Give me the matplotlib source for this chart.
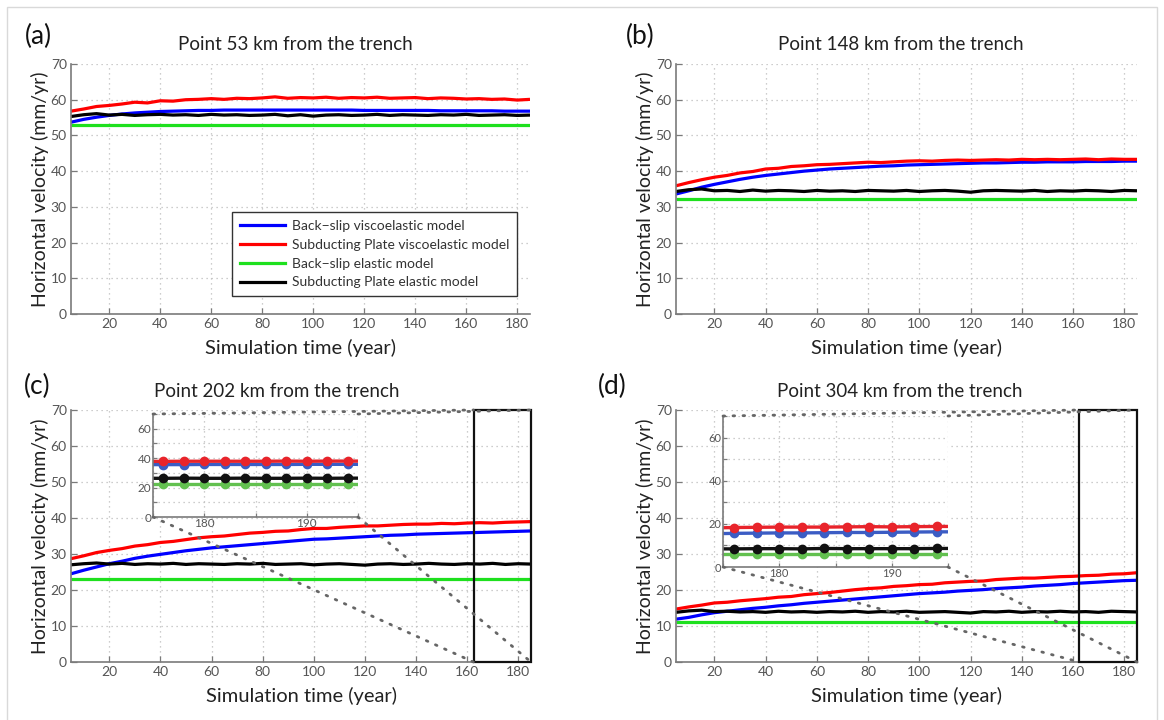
import matplotlib.pyplot as plt
from matplotlib.patches import Rectangle, ConnectionPatch
from matplotlib.lines import Line2D

plt.rcParams['font.family'] = ['Lato', 'DejaVu Sans']

# simulation time (years)
years = list(range(5, 190, 5))

labels = ['Back\u2212slip viscoelastic model', 'Subducting Plate viscoelastic model',
          'Back\u2212slip elastic model', 'Subducting Plate elastic model']
titles = ['Point 53 km from the trench', 'Point 148 km from the trench',
          'Point 202 km from the trench', 'Point 304 km from the trench']
panel_tags = ['(a)', '(b)', '(c)', '(d)']

# (a) 53 km
a_blue = [53.7, 54.5, 55.1, 55.6, 56.0, 56.3, 56.5, 56.7, 56.8, 56.9,
          57.0, 57.0, 57.1, 57.1, 57.1, 57.1, 57.1, 57.1, 57.1, 57.1,
          57.1, 57.1, 57.1, 57.0, 57.0, 57.0, 57.0, 57.0, 57.0, 56.9,
          56.9, 56.9, 56.9, 56.9, 56.8, 56.8, 56.8]
a_red = [56.8, 57.4, 58.1, 58.4, 58.8, 59.3, 59.1, 59.7, 59.6, 60.0,
         60.1, 60.3, 60.1, 60.4, 60.3, 60.5, 60.8, 60.4, 60.6, 60.5,
         60.7, 60.4, 60.6, 60.5, 60.7, 60.4, 60.5, 60.6, 60.3, 60.5,
         60.4, 60.2, 60.3, 60.1, 60.2, 59.9, 60.1]
a_green = [53.0, 53.0, 53.0, 53.0, 53.0, 53.0, 53.0, 53.0, 53.0, 53.0,
           53.0, 53.0, 53.0, 53.0, 53.0, 53.0, 53.0, 53.0, 53.0, 53.0,
           53.0, 53.0, 53.0, 53.0, 53.0, 53.0, 53.0, 53.0, 53.0, 53.0,
           53.0, 53.0, 53.0, 53.0, 53.0, 53.0, 53.0]
a_black = [55.3, 55.8, 56.1, 55.7, 55.9, 55.6, 55.8, 55.9, 55.7, 55.8,
           55.6, 55.9, 55.7, 55.8, 55.6, 55.7, 55.9, 55.5, 55.8, 55.4,
           55.7, 55.8, 55.6, 55.7, 55.9, 55.6, 55.8, 55.7, 55.6, 55.8,
           55.7, 55.9, 55.6, 55.7, 55.8, 55.6, 55.7]

# (b) 148 km
b_blue = [33.6, 34.5, 35.5, 36.3, 37.0, 37.7, 38.3, 38.8, 39.2, 39.6,
          40.0, 40.3, 40.6, 40.8, 41.0, 41.2, 41.4, 41.5, 41.7, 41.8,
          41.9, 42.0, 42.1, 42.2, 42.3, 42.3, 42.4, 42.5, 42.5, 42.6,
          42.6, 42.6, 42.7, 42.7, 42.7, 42.8, 42.8]
b_red = [35.9, 36.8, 37.6, 38.3, 38.8, 39.5, 39.9, 40.6, 40.8, 41.3,
         41.5, 41.8, 41.9, 42.1, 42.3, 42.5, 42.4, 42.6, 42.8, 42.9,
         42.8, 43.0, 43.1, 43.0, 43.1, 43.2, 43.1, 43.3, 43.2, 43.3,
         43.2, 43.3, 43.4, 43.2, 43.4, 43.3, 43.3]
b_green = [32.1, 32.1, 32.1, 32.1, 32.1, 32.1, 32.1, 32.1, 32.1, 32.1,
           32.1, 32.1, 32.1, 32.1, 32.1, 32.1, 32.1, 32.1, 32.1, 32.1,
           32.1, 32.1, 32.1, 32.1, 32.1, 32.1, 32.1, 32.1, 32.1, 32.1,
           32.1, 32.1, 32.1, 32.1, 32.1, 32.1, 32.1]
b_black = [34.3, 34.8, 35.0, 34.5, 34.6, 34.3, 34.7, 34.4, 34.6, 34.5,
           34.3, 34.6, 34.4, 34.5, 34.3, 34.6, 34.5, 34.4, 34.6, 34.3,
           34.5, 34.6, 34.4, 34.1, 34.5, 34.6, 34.5, 34.4, 34.6, 34.3,
           34.5, 34.4, 34.6, 34.5, 34.3, 34.6, 34.5]

# (c) 202 km
c_blue = [24.5, 25.5, 26.4, 27.3, 28.0, 28.8, 29.4, 29.9, 30.4, 30.9,
          31.3, 31.7, 32.0, 32.3, 32.6, 32.9, 33.2, 33.5, 33.8, 34.1,
          34.2, 34.4, 34.6, 34.8, 35.0, 35.2, 35.3, 35.5, 35.6, 35.7,
          35.8, 35.9, 36.0, 36.1, 36.2, 36.3, 36.4]
c_red = [28.7, 29.5, 30.4, 31.0, 31.5, 32.2, 32.6, 33.2, 33.5, 34.0,
         34.5, 34.8, 35.0, 35.4, 35.8, 36.0, 36.3, 36.4, 36.8, 37.1,
         37.1, 37.4, 37.6, 37.8, 37.8, 38.0, 38.2, 38.3, 38.3, 38.5,
         38.4, 38.6, 38.7, 38.6, 38.8, 38.9, 39.0]
c_green = [23.0, 23.0, 23.0, 23.0, 23.0, 23.0, 23.0, 23.0, 23.0, 23.0,
           23.0, 23.0, 23.0, 23.0, 23.0, 23.0, 23.0, 23.0, 23.0, 23.0,
           23.0, 23.0, 23.0, 23.0, 23.0, 23.0, 23.0, 23.0, 23.0, 23.0,
           23.0, 23.0, 23.0, 23.0, 23.0, 23.0, 23.0]
c_black = [27.0, 27.3, 27.5, 27.2, 27.4, 27.1, 27.3, 27.2, 27.4, 27.1,
           27.3, 27.2, 27.1, 27.3, 27.2, 27.4, 27.1, 27.2, 27.3, 27.0,
           27.2, 27.3, 27.1, 26.9, 27.2, 27.3, 27.1, 27.2, 27.4, 27.2,
           27.1, 27.3, 27.2, 27.4, 27.1, 27.3, 27.2]

# (d) 304 km
d_blue = [11.9, 12.4, 13.1, 13.7, 14.1, 14.5, 14.9, 15.2, 15.6, 15.9,
          16.3, 16.6, 16.9, 17.2, 17.5, 17.8, 18.1, 18.4, 18.7, 19.0,
          19.2, 19.4, 19.7, 19.9, 20.1, 20.4, 20.6, 20.8, 21.1, 21.3,
          21.5, 21.8, 22.0, 22.2, 22.4, 22.6, 22.7]
d_red = [14.7, 15.3, 15.8, 16.4, 16.6, 17.0, 17.3, 17.6, 18.0, 18.2,
         18.7, 19.0, 19.3, 19.7, 20.1, 20.4, 20.6, 21.0, 21.2, 21.5,
         21.6, 22.0, 22.2, 22.4, 22.5, 22.9, 23.1, 23.3, 23.3, 23.5,
         23.7, 23.8, 24.0, 24.1, 24.4, 24.5, 24.8]
d_green = [11.2, 11.2, 11.2, 11.2, 11.2, 11.2, 11.2, 11.2, 11.2, 11.2,
           11.2, 11.2, 11.2, 11.2, 11.2, 11.2, 11.2, 11.2, 11.2, 11.2,
           11.2, 11.2, 11.2, 11.2, 11.2, 11.2, 11.2, 11.2, 11.2, 11.2,
           11.2, 11.2, 11.2, 11.2, 11.2, 11.2, 11.2]
d_black = [13.8, 14.2, 14.4, 14.0, 14.1, 13.9, 14.0, 13.8, 14.1, 13.9,
           14.0, 13.8, 14.0, 13.9, 14.1, 13.8, 14.0, 13.9, 14.1, 13.8,
           13.9, 14.0, 13.8, 13.6, 14.0, 13.9, 14.1, 13.8, 14.0, 13.9,
           14.1, 13.9, 14.0, 13.8, 14.1, 14.0, 13.9]

# zoomed insets (c) and (d)
inset_years = [175, 176, 178, 180, 182, 184, 186, 188, 190, 192, 194, 195]
c_in_blue = [35.6, 35.6, 35.6, 35.7, 35.7, 35.7, 35.7, 35.7, 35.8, 35.8, 35.8, 35.8]
c_in_red = [37.8, 37.8, 37.9, 37.9, 37.9, 37.9, 37.9, 38.0, 37.9, 38.0, 38.0, 38.0]
c_in_green = [22.5, 22.5, 22.5, 22.5, 22.5, 22.5, 22.5, 22.5, 22.5, 22.5, 22.5, 22.5]
c_in_black = [26.3, 26.3, 26.4, 26.3, 26.3, 26.4, 26.3, 26.3, 26.4, 26.3, 26.4, 26.4]
d_in_blue = [15.5, 15.6, 15.7, 15.8, 15.8, 15.9, 16.0, 16.0, 16.1, 16.2, 16.3, 16.3]
d_in_red = [18.2, 18.3, 18.4, 18.5, 18.5, 18.5, 18.6, 18.7, 18.6, 18.7, 18.8, 18.8]
d_in_green = [6.0, 6.0, 6.0, 6.0, 6.0, 6.0, 6.0, 6.0, 6.0, 6.0, 6.0, 6.0]
d_in_black = [8.4, 8.4, 8.5, 8.5, 8.4, 8.6, 8.5, 8.5, 8.5, 8.5, 8.6, 8.6]

zoom_window = (162.5, 185)

main_colors = ['#0000ff', '#ff0000', '#1ee01e', '#000000']
inset_colors = ['#3b5cc4', '#e8242b', '#62c04f', '#111111']

W, H = 1164, 720
fig = plt.figure(figsize=(W / 100, H / 100), dpi=100)

# light frame around the picture
fig.add_artist(Rectangle((7 / W, -0.05), 1150 / W, 1.05 - 7 / H, transform=fig.transFigure,
                         fill=False, edgecolor='#d9d9d9', linewidth=1.0))


def px_axes(l, t, r, b):
    return fig.add_axes([l / W, 1 - b / H, (r - l) / W, (b - t) / H])


def style(ax, fs):
    for s in ['top', 'right']:
        ax.spines[s].set_visible(False)
    for s in ['left', 'bottom']:
        ax.spines[s].set_color('#7a7a7a')
        ax.spines[s].set_linewidth(1.2)
    ax.tick_params(direction='in', length=4, width=0.9, color='#7a7a7a',
                   labelcolor='#555555', labelsize=fs, pad=3)
    ax.grid(True, linestyle=(0, (1, 3)), color='#bdbdbd', linewidth=0.9)
    ax.set_axisbelow(True)


boxes = [(71, 64, 530, 314), (676, 64, 1137, 314), (71, 410, 531, 662), (676, 410, 1137, 662)]
series = [(a_blue, a_red, a_green, a_black), (b_blue, b_red, b_green, b_black),
          (c_blue, c_red, c_green, c_black), (d_blue, d_red, d_green, d_black)]
title_x = [295, 901, 277, 900]
title_y = [44, 44, 392, 392]
tag_xy = [(25, 36), (626, 36), (24, 386), (598, 386)]
ylab_x = [40, 645, 40, 645]

axes = []
for i, (box, data) in enumerate(zip(boxes, series)):
    ax = px_axes(*box)
    for y, c, lab in zip(data, main_colors, labels):
        ax.plot(years, y, color=c, linewidth=2.3, label=lab, solid_capstyle='butt')
    ax.set_xlim(5, 185)
    ax.set_ylim(0, 70)
    ax.set_xticks(range(20, 181, 20))
    ax.set_yticks(range(0, 71, 10))
    style(ax, 10)
    fig.text(title_x[i] / W, 1 - title_y[i] / H, titles[i], ha='center', va='center',
             fontsize=13.5, color='#222222')
    fig.text(tag_xy[i][0] / W, 1 - tag_xy[i][1] / H, panel_tags[i], ha='left', va='center',
             fontsize=19, color='#111111')
    cy = (box[1] + box[3]) / 2
    fig.text(ylab_x[i] / W, 1 - cy / H, 'Horizontal velocity (mm/yr)', rotation=90,
             ha='center', va='center', fontsize=14, color='#222222')
    fig.text((box[0] + box[2]) / 2 / W, 1 - (box[3] + 34) / H, 'Simulation time (year)',
             ha='center', va='center', fontsize=14.5, color='#222222')
    axes.append(ax)

# legend in panel (a)
handles = [Line2D([], [], color=c, linewidth=2.3) for c in main_colors]
leg = fig.legend(handles, labels, loc='upper left', bbox_to_anchor=(232 / W, 1 - 212 / H),
                 bbox_transform=fig.transFigure, borderaxespad=0, fontsize=10,
                 handlelength=3.3, handletextpad=0.45, labelspacing=0.5, borderpad=0.55,
                 fancybox=False, framealpha=1, edgecolor='#333333')
leg.get_frame().set_linewidth(1.0)
for t in leg.get_texts():
    t.set_color('#333333')

# insets with zoom boxes
inset_boxes = [(153, 414, 358, 517), (723, 416, 948, 567)]
inset_series = [(c_in_blue, c_in_red, c_in_green, c_in_black),
                (d_in_blue, d_in_red, d_in_green, d_in_black)]
inset_fs = [8.5, 8]
for k, (ibox, idata) in enumerate(zip(inset_boxes, inset_series)):
    ax = axes[2 + k]
    ins = px_axes(*ibox)
    ins.set_facecolor('white')
    for y, c in zip(idata, inset_colors):
        ins.plot(inset_years, y, color=c, linewidth=2.4, marker='o', markersize=6,
                 markevery=list(range(1, len(inset_years) - 1)))
    ins.set_xlim(175, 195)
    ins.set_ylim(0, 70)
    ins.set_xticks([175, 180, 185, 190, 195], labels=['', '180', '', '190', ''])
    ins.set_yticks(range(0, 71, 10), labels=['0', '', '20', '', '40', '', '60', ''])
    style(ins, inset_fs[k])
    ins.tick_params(length=3, pad=1)

    x0, x1 = zoom_window
    ax.add_patch(Rectangle((x0, 0), x1 - x0, 70, fill=False, edgecolor='#111111',
                           linewidth=1.6, clip_on=False, zorder=5))
    for pa, pb in [((0, 1), (x0, 70)), ((1, 1), (x1, 70)), ((0, 0), (x0, 0)), ((1, 0), (x1, 0))]:
        con = ConnectionPatch(xyA=pa, coordsA=ins.transAxes, xyB=pb, coordsB=ax.transData,
                              linestyle=(0, (0.6, 3.0)), color='#666666', linewidth=2.0,
                              capstyle='round')
        fig.add_artist(con)

fig.savefig('out.png', dpi=100, facecolor='white')
